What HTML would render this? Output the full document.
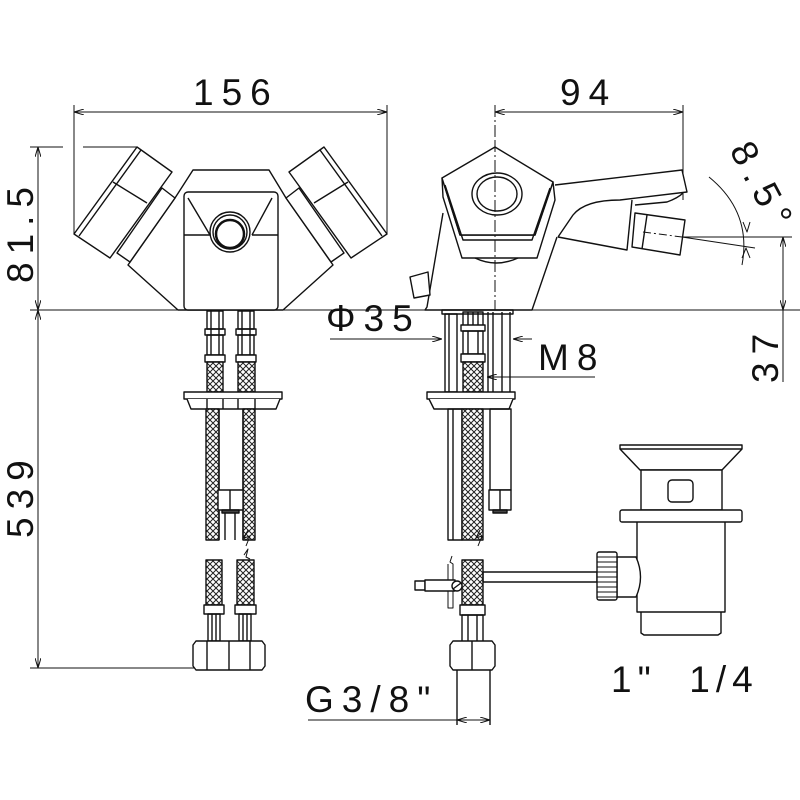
<!DOCTYPE html>
<html><head><meta charset="utf-8"><style>
html,body{margin:0;padding:0;background:#fff;}
svg{display:block;}
text{font-family:"Liberation Sans",sans-serif;font-size:37px;fill:#111;letter-spacing:8px;}
</style></head><body>
<svg width="800" height="800" viewBox="0 0 800 800" xmlns="http://www.w3.org/2000/svg">
<defs>
<pattern id="br" width="6" height="6" patternUnits="userSpaceOnUse">
<rect width="6" height="6" fill="#fff"/>
<path d="M0,0L6,6M6,0L0,6" stroke="#222" stroke-width="1"/>
</pattern>
<marker id="a" viewBox="0 0 10 6" refX="10" refY="3" markerWidth="10" markerHeight="6" orient="auto-start-reverse" markerUnits="userSpaceOnUse">
<path d="M0,0L10,3L0,6" fill="none" stroke="#111" stroke-width="1"/>
</marker>
</defs>
<g fill="none" stroke="#111" stroke-width="1.4" stroke-linejoin="round">

<line x1="74" y1="105" x2="74" y2="234" stroke-width="1"/>
<line x1="387" y1="105" x2="387" y2="234" stroke-width="1"/>
<line x1="74" y1="112" x2="387" y2="112" stroke-width="1" marker-start="url(#a)" marker-end="url(#a)"/>
<line x1="30" y1="147" x2="63" y2="147" stroke-width="1"/>
<line x1="83" y1="147" x2="137" y2="147" stroke-width="1"/>
<line x1="38" y1="147" x2="38" y2="310" stroke-width="1" marker-start="url(#a)" marker-end="url(#a)"/>
<line x1="38" y1="310" x2="38" y2="668" stroke-width="1" marker-start="url(#a)" marker-end="url(#a)"/>
<line x1="30" y1="310" x2="800" y2="310" stroke-width="1"/>
<line x1="30" y1="668" x2="195" y2="668" stroke-width="1"/>

<path d="M178,310 L128,265 L175,198 L193,170 L269,170 L286,198 L333,265 L283,310 Z" fill="#fff"/>
<rect x="184" y="192" width="94" height="118" rx="4" fill="#fff"/>
<path d="M188,198 L210,235 M272,198 L252,235 M184,235 L210,235 M252,235 L278,235"/>
<circle cx="230" cy="232" r="20" fill="#fff"/>
<circle cx="230" cy="232" r="17"/>
<circle cx="230" cy="234" r="14" stroke-width="2.5"/>
<path d="M162,188 L175,198 L130,262 L117,253 Z" fill="#fff"/>
<path d="M74,234 L137,147 L172,172 L110,258 Z" fill="#fff"/>
<path d="M79,236 L141,150 M113,182 L147,203"/>
<g transform="translate(461,0) scale(-1,1)">
<path d="M162,188 L175,198 L130,262 L117,253 Z" fill="#fff"/>
<path d="M74,234 L137,147 L172,172 L110,258 Z" fill="#fff"/>
<path d="M79,236 L141,150 M113,182 L147,203"/>
</g>
<rect x="207" y="311" width="16" height="18"/><rect x="238" y="311" width="16" height="18"/>
<path d="M211,311v44M219,311v44M242,311v44M250,311v44"/>
<rect x="205" y="329" width="20" height="6"/><rect x="236" y="329" width="20" height="6"/>
<rect x="207" y="335" width="16" height="20"/><rect x="238" y="335" width="16" height="20"/>
<rect x="205" y="355" width="20" height="7" fill="#fff"/><rect x="236" y="355" width="20" height="7" fill="#fff"/>
<rect x="207" y="362" width="16" height="30" fill="url(#br)"/><rect x="238" y="362" width="17" height="30" fill="url(#br)"/>
<rect x="184" y="392" width="98" height="7" fill="#fff"/>
<path d="M187,399 L191,409 L276,409 L280,399" fill="#fff"/>
<path d="M207,399v10M223,399v10M238,399v10M255,399v10"/>
<rect x="206" y="409" width="13" height="131" fill="url(#br)"/>
<rect x="243" y="409" width="12" height="131" fill="url(#br)"/>
<path d="M219,409v131M243,409v131"/>
<rect x="218" y="490" width="25" height="20" fill="#fff"/><line x1="230" y1="490" x2="230" y2="510"/>
<rect x="222" y="510" width="17" height="3" fill="#444"/>
<path d="M225,513v27M235,513v27"/>
<path d="M248,530l-4,8l6,-2l-4,10" stroke-width="1"/>
<path d="M244,555l4,-6l-2,8l4,2" stroke-width="1"/>
<rect x="206" y="560" width="16" height="45" fill="url(#br)"/>
<rect x="237" y="560" width="17" height="45" fill="url(#br)"/>
<rect x="204" y="605" width="20" height="9" fill="#fff"/><rect x="235" y="605" width="21" height="9" fill="#fff"/>
<rect x="208" y="614" width="12" height="27"/><rect x="239" y="614" width="12" height="27"/>
<path d="M212,614v27M216,614v27M243,614v27M247,614v27"/>
<path d="M193,645 L196,641 L262,641 L265,645 L265,666 L262,670 L196,670 L193,666 Z" fill="#fff"/>
<path d="M207,641v29M229,641v29M250,641v29"/>

<line x1="495" y1="105" x2="495" y2="310" stroke-width="1" stroke-dasharray="12,3,2,3"/>
<line x1="683" y1="105" x2="683" y2="200" stroke-width="1"/>
<line x1="495" y1="112" x2="683" y2="112" stroke-width="1" marker-start="url(#a)" marker-end="url(#a)"/>
<line x1="682" y1="237" x2="792" y2="237" stroke-width="1"/>
<line x1="682" y1="237" x2="755" y2="248" stroke-width="1"/>
<line x1="783" y1="237" x2="783" y2="310" stroke-width="1" marker-start="url(#a)" marker-end="url(#a)"/>
<line x1="783" y1="310" x2="783" y2="382" stroke-width="1"/>
<path d="M709,177 Q752,212 742,265" stroke-width="1"/>
<path d="M743,222 L747,232 L750,222 M742,258 L746,248 L750,258" stroke-width="1"/>
<line x1="330" y1="339" x2="442" y2="339" stroke-width="1" marker-end="url(#a)"/>
<line x1="532" y1="339" x2="513" y2="339" stroke-width="1" marker-end="url(#a)"/>
<line x1="595" y1="377" x2="487" y2="377" stroke-width="1" marker-end="url(#a)"/>
<line x1="308" y1="720" x2="457" y2="720" stroke-width="1"/>
<line x1="457" y1="720" x2="490" y2="720" stroke-width="1" marker-start="url(#a)" marker-end="url(#a)"/>

<path d="M443,213 L427,307 L425,310 L532,310 L557,237" fill="#fff"/>
<path d="M410,277 L428,272 L430,295 L414,298 Z" fill="#fff"/>
<path d="M555,185 L682,170 L687,192 L620,200 Q585,200 573,215 L558,237" fill="#fff"/>
<path d="M635,205 L667,202 Q678,198 683,193"/>
<path d="M558,237 L627,250 L632,200"/>
<path d="M635,213 L685,220 L680,255 L632,247 Z" fill="#fff"/>
<path d="M647,215 L642,249"/>
<line x1="643" y1="232" x2="682" y2="237" stroke-width="1" stroke-dasharray="8,3,2,3"/>
<path d="M443,197 L462,258 L537,258 L555,200 L553,182 L535,235 L460,235 L442,178 Z" fill="#fff"/>
<path d="M495,147 L553,182 L535,235 L460,235 L442,178 Z" fill="#fff"/>
<path d="M445,185 L463,240 L532,240 L550,188"/>
<path d="M475,258 Q496,268 518,258"/>
<ellipse cx="497" cy="194" rx="25" ry="21" fill="#fff"/>
<ellipse cx="497" cy="194" rx="20" ry="17"/>
<line x1="495" y1="140" x2="495" y2="310" stroke-width="1" stroke-dasharray="12,3,2,3"/>
<rect x="442" y="310" width="71" height="4"/>
<rect x="445" y="314" width="12" height="78"/>
<path d="M449,314v78"/>
<rect x="463" y="312" width="20" height="18"/>
<path d="M468,312v18M473,312v18M478,312v18"/>
<rect x="461" y="325" width="24" height="6" fill="#fff"/>
<rect x="463" y="331" width="20" height="23"/>
<path d="M468,331v23M478,331v23"/>
<rect x="461" y="354" width="24" height="8" fill="#fff"/>
<rect x="463" y="362" width="20" height="30" fill="url(#br)"/>
<path d="M488,312v80M493,312v80M502,312v80M510,312v80"/>
<rect x="427" y="392" width="88" height="7" fill="#fff"/>
<path d="M429,399 L434,409 L509,409 L513,399" fill="#fff"/>
<rect x="448" y="409" width="14" height="131"/>
<path d="M453,409v131"/>
<rect x="462" y="409" width="21" height="131" fill="url(#br)"/>
<rect x="490" y="409" width="21" height="81"/>
<rect x="489" y="490" width="22" height="20" fill="#fff"/><line x1="500" y1="490" x2="500" y2="510"/>
<rect x="493" y="510" width="14" height="3" fill="#444"/>
<path d="M480,530l-4,8l6,-2l-4,10" stroke-width="1"/>
<rect x="462" y="560" width="21" height="45" fill="url(#br)"/>
<path d="M452,556l-2,6l3,2v44h-5v-44" stroke-width="1"/>
<rect x="415" y="581" width="10" height="9"/>
<rect x="425" y="580" width="30" height="11" fill="#fff"/>
<circle cx="457" cy="586" r="5" fill="#fff"/><line x1="453" y1="589" x2="461" y2="583"/>
<rect x="483" y="572" width="114" height="10"/>
<rect x="460" y="605" width="25" height="10" fill="#fff"/>
<rect x="462" y="615" width="21" height="27"/>
<path d="M468,615v27M477,615v27"/>
<path d="M450,645 L453,641 L492,641 L495,645 L495,666 L492,670 L453,670 L450,666 Z" fill="#fff"/>
<line x1="472" y1="641" x2="472" y2="670"/>
<path d="M457,670 V725 M490,670 V725"/>

<path d="M620,445 L742,445 L742,449 L722,470 L640,470 L620,449 Z" fill="#fff"/>
<line x1="620" y1="449" x2="742" y2="449"/>
<rect x="641" y="470" width="81" height="40" fill="#fff"/>
<rect x="668" y="480" width="25" height="22" rx="4"/>
<rect x="620" y="510" width="122" height="12" rx="2" fill="#fff"/>
<path d="M637,522 V612 H725 V522"/>
<path d="M641,612 V633 L644,635 H718 L721,633 V612"/>
<path d="M617,557 L636,557 Q645,577 636,597 L617,597 Z" fill="#fff"/>
<rect x="597" y="552" width="20" height="48" rx="2" fill="#fff"/>
<path d="M597,557h20M597,562h20M597,567h20M597,572h20M597,577h20M597,582h20M597,587h20M597,592h20M597,597h20" stroke-width="1"/>
</g>

<text x="193" y="105">156</text>
<text x="560" y="105">94</text>
<text transform="translate(33,283) rotate(-90)">81.5</text>
<text transform="translate(33,538) rotate(-90)">539</text>
<text transform="translate(778,383) rotate(-90)">37</text>
<text transform="translate(729,150) rotate(62)">8.5°</text>
<text x="326" y="331">Φ35</text>
<text x="538" y="370">M8</text>
<text x="305" y="712">G3/8"</text>
<text x="611" y="692" style="letter-spacing:6px">1"&#160;&#160;1/4</text>
</svg>
</body></html>
